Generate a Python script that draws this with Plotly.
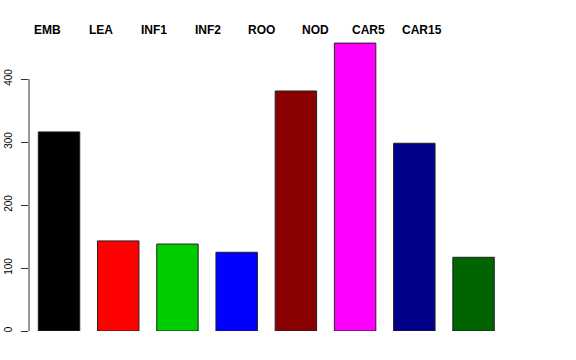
import plotly.graph_objects as go

categories = ["EMB", "LEA", "INF1", "INF2", "ROO", "NOD", "CAR5", "CAR15"]
values = [316, 143, 138, 125, 381, 457, 298, 117]
colors = ["#000000", "#FF0000", "#00CD00", "#0000FF", "#8B0000", "#FF00FF", "#00008B", "#006400"]
y_ticks = [0, 100, 200, 300, 400]

idx = list(range(len(categories)))

fig = go.Figure()
fig.add_trace(go.Bar(
    x=idx, y=values, width=0.7,
    marker=dict(color=colors, line=dict(color="#222222", width=1)),
    hoverinfo="skip", showlegend=False,
))

# R-style y axis line only spanning tick range
fig.add_shape(type="line", xref="paper", yref="y", x0=0, x1=0,
              y0=y_ticks[0], y1=y_ticks[-1], line=dict(color="#333333", width=1))

for i, c in enumerate(categories):
    fig.add_annotation(x=-0.2 + 0.905 * i, xref="x", y=1 + (39 - 30) / 292, yref="paper",
                       yanchor="middle",
                       text=f"<b>{c}</b>", showarrow=False,
                       font=dict(size=12, color="black", family="Liberation Sans, Arial"))

fig.update_layout(
    width=576, height=360,
    margin=dict(l=29, r=16, t=39, b=29, autoexpand=False),
    paper_bgcolor="white", plot_bgcolor="white",
    font=dict(family="Liberation Sans, Arial", color="black"),
    xaxis=dict(range=[-0.507, 8.46], showgrid=False, zeroline=False, automargin=False,
               showticklabels=False, ticks="", showline=False, fixedrange=True),
    yaxis=dict(range=[0, 463.5], showgrid=False, zeroline=False, showline=False,
               automargin=False, fixedrange=True,
               tickvals=y_ticks, ticktext=[str(v) for v in y_ticks],
               ticks="outside", ticklen=7, tickcolor="#333333", tickangle=-90,
               ticklabelstandoff=5,
               tickfont=dict(size=10, color="black")),
)

fig.write_html("out.html", config={"displayModeBar": False, "staticPlot": True},
               post_script="document.body.style.margin='0';")
